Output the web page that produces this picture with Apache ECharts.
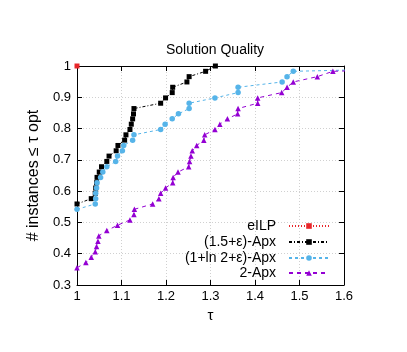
<!DOCTYPE html>
<html>
<head>
<meta charset="utf-8">
<script src="https://cdn.jsdelivr.net/npm/echarts@6/dist/echarts.min.js"></script>
<style>html,body{margin:0;padding:0;background:#fff}#c{width:407px;height:352px}</style>
</head>
<body>
<div id="c"></div>
<script>
var seriesNames = ['eILP', '(1.5+ε)-Apx', '(1+ln 2+ε)-Apx', '2-Apx'];
var xTicks = [1, 1.1, 1.2, 1.3, 1.4, 1.5, 1.6];
var yTicks = [0.3, 0.4, 0.5, 0.6, 0.7, 0.8, 0.9, 1];

var eilpTau = [1.0];
var eilpFrac = [1.0];

var apx15Tau = [1.0, 1.032, 1.041, 1.042, 1.044, 1.045, 1.050, 1.055, 1.067, 1.072, 1.088, 1.092, 1.107, 1.110, 1.119, 1.122, 1.125, 1.127, 1.128, 1.188, 1.199, 1.214, 1.215, 1.247, 1.252, 1.289, 1.311];
var apx15Frac = [0.559, 0.576, 0.593, 0.610, 0.627, 0.644, 0.661, 0.678, 0.695, 0.712, 0.729, 0.746, 0.763, 0.780, 0.797, 0.814, 0.831, 0.847, 0.864, 0.881, 0.898, 0.915, 0.932, 0.949, 0.966, 0.983, 1.0];

var apxLnTau = [1.0, 1.041, 1.042, 1.042, 1.044, 1.045, 1.053, 1.058, 1.067, 1.087, 1.091, 1.102, 1.105, 1.125, 1.128, 1.188, 1.198, 1.214, 1.228, 1.252, 1.252, 1.310, 1.362, 1.362, 1.461, 1.472, 1.486, 2.0];
var apxLnFrac = [0.542, 0.559, 0.576, 0.593, 0.610, 0.627, 0.644, 0.661, 0.678, 0.695, 0.712, 0.729, 0.746, 0.763, 0.780, 0.797, 0.814, 0.831, 0.847, 0.864, 0.881, 0.898, 0.915, 0.932, 0.949, 0.966, 0.983, 1.0];

var apx2Tau = [1.0, 1.020, 1.032, 1.041, 1.044, 1.047, 1.049, 1.067, 1.091, 1.119, 1.128, 1.129, 1.170, 1.184, 1.188, 1.199, 1.215, 1.216, 1.227, 1.251, 1.253, 1.256, 1.259, 1.269, 1.285, 1.287, 1.310, 1.321, 1.338, 1.361, 1.362, 1.406, 1.406, 1.460, 1.472, 1.486, 1.540, 1.575, 2.0];
var apx2Frac = [0.355, 0.372, 0.389, 0.406, 0.423, 0.440, 0.457, 0.474, 0.491, 0.508, 0.525, 0.542, 0.559, 0.576, 0.593, 0.610, 0.627, 0.644, 0.661, 0.678, 0.695, 0.712, 0.729, 0.746, 0.763, 0.780, 0.797, 0.814, 0.831, 0.847, 0.864, 0.881, 0.898, 0.915, 0.932, 0.949, 0.966, 0.983, 1.0];

function pairs(xs, ys) { return xs.map(function (x, i) { return [x, ys[i]]; }); }

var FONT = 'Liberation Sans';
var chart = echarts.init(document.getElementById('c'), null, { renderer: 'canvas' });

var gridLine = { show: true, lineStyle: { color: '#d0d0d0', type: [1, 2], width: 1 } };
var frameLine = { show: true, onZero: false, lineStyle: { color: '#000', width: 1 } };
var tickIn = { show: true, inside: true, length: 5, lineStyle: { color: '#000' } };

function legendFor(name, top) {
  return {
    data: [name], right: 77, top: top, orient: 'vertical', align: 'right', padding: 0,
    itemWidth: 40, itemHeight: 7, selectedMode: false,
    textStyle: { fontFamily: FONT, fontSize: 14, color: '#000', padding: [0, 8, 0, 0] }
  };
}

chart.setOption({
  animation: false,
  title: {
    text: 'Solution Quality', left: 210, top: 38, textAlign: 'center',
    textStyle: { fontFamily: FONT, fontSize: 14, fontWeight: 'normal', color: '#000' }
  },
  legend: [legendFor(seriesNames[0], 219), legendFor(seriesNames[1], 235), legendFor(seriesNames[2], 251), legendFor(seriesNames[3], 266)],
  grid: { left: 77, right: 63, top: 66, bottom: 67 },
  xAxis: [{
    type: 'value', min: 1, max: 1.6, interval: 0.1,
    name: 'τ', nameLocation: 'middle', nameGap: 23,
    nameTextStyle: { fontFamily: FONT, fontSize: 15, color: '#000' },
    axisLine: frameLine, axisTick: tickIn, splitLine: gridLine,
    axisLabel: { fontFamily: FONT, fontSize: 13, color: '#000', margin: 5 }
  }, {
    type: 'value', position: 'top', min: 1, max: 1.6, interval: 0.1,
    axisLine: frameLine, axisTick: tickIn, splitLine: { show: false }, axisLabel: { show: false }
  }],
  yAxis: [{
    type: 'value', min: 0.3, max: 1, interval: 0.1,
    name: '# instances ≤ τ opt', nameLocation: 'middle', nameGap: 22, nameRotate: 90,
    nameTextStyle: { fontFamily: FONT, fontSize: 16, color: '#000' },
    axisLine: frameLine, axisTick: tickIn, splitLine: gridLine,
    axisLabel: { fontFamily: FONT, fontSize: 13, color: '#000', margin: 6 }
  }, {
    type: 'value', position: 'right', min: 0.3, max: 1, interval: 0.1,
    axisLine: frameLine, axisTick: tickIn, splitLine: { show: false }, axisLabel: { show: false }
  }],
  series: [{
    name: seriesNames[0], type: 'line', data: pairs(eilpTau, eilpFrac), clip: true,
    symbol: 'rect', symbolSize: 5, showSymbol: true, z: 5,
    itemStyle: { color: '#e8262a' }, lineStyle: { color: '#e8262a', width: 1, type: [1, 2] }
  }, {
    name: seriesNames[1], type: 'line', data: pairs(apx15Tau, apx15Frac), clip: true,
    symbol: 'rect', symbolSize: 5, showSymbol: true,
    itemStyle: { color: '#000' }, lineStyle: { color: '#000', width: 1, type: [3, 2, 1, 2] }
  }, {
    name: seriesNames[2], type: 'line', data: pairs(apxLnTau, apxLnFrac), clip: true,
    symbol: 'circle', symbolSize: 5.5, showSymbol: true,
    itemStyle: { color: '#56b4e9' }, lineStyle: { color: '#56b4e9', width: 1, type: [3, 3] }
  }, {
    name: seriesNames[3], type: 'line', data: pairs(apx2Tau, apx2Frac), clip: true,
    symbol: 'triangle', symbolSize: 5.5, showSymbol: true,
    itemStyle: { color: '#9400d3' }, lineStyle: { color: '#9400d3', width: 1, type: [4, 4] }
  }]
});
</script>
</body>
</html>
